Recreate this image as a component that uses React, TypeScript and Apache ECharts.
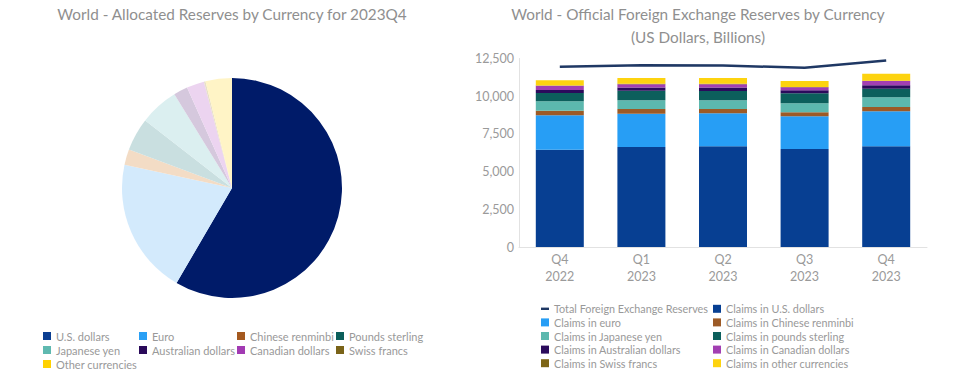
import React, { useEffect, useRef } from "react";
import * as echarts from "echarts";

// ---- Pie (2023Q4 allocated reserves shares, %) ----
const pieNames = [
  "U.S. dollars",
  "Euro",
  "Chinese renminbi",
  "Pounds sterling",
  "Japanese yen",
  "Australian dollars",
  "Canadian dollars",
  "Swiss francs",
  "Other currencies",
];
const pieShares = [58.41, 19.98, 2.29, 4.84, 5.7, 2.08, 2.59, 0.23, 3.88];
const pieSliceColors = [
  "#001b69",
  "#d3eafc",
  "#f3dcc5",
  "#c9dfe0",
  "#dbeff0",
  "#d5c8dd",
  "#ecd4f0",
  "#e8e0c8",
  "#fff4c6",
];
const pieLegendColors = [
  "#0b3e91",
  "#2aa0f5",
  "#a4591f",
  "#0b5e5a",
  "#5fb9b0",
  "#2a0a5a",
  "#a23ab3",
  "#7a6318",
  "#ffd100",
];

// ---- Bars (US Dollars, Billions) ----
const quarters = ["Q4", "Q1", "Q2", "Q3", "Q4"];
const years = ["2022", "2023", "2023", "2023", "2023"];
const yTicks = [0, 2500, 5000, 7500, 10000, 12500];
const totalReserves = [11956, 12050, 12040, 11880, 12360];
const usd = [6452, 6631, 6678, 6499, 6678];
const eur = [2281, 2200, 2188, 2168, 2321];
const cny = [305, 312, 285, 265, 285];
const jpy = [624, 590, 577, 597, 643];
const gbp = [550, 623, 617, 663, 570];
const aud = [205, 220, 230, 199, 225];
const cad = [270, 220, 220, 199, 285];
const chf = [25, 25, 25, 25, 25];
const other = [342, 386, 387, 393, 460];

const barNames = [
  "Claims in U.S. dollars",
  "Claims in euro",
  "Claims in Chinese renminbi",
  "Claims in Japanese yen",
  "Claims in pounds sterling",
  "Claims in Australian dollars",
  "Claims in Canadian dollars",
  "Claims in Swiss francs",
  "Claims in other currencies",
];
const barValues = [usd, eur, cny, jpy, gbp, aud, cad, chf, other];
const barColors = [
  "#073f92",
  "#279ef5",
  "#9c5a26",
  "#5cb8ae",
  "#0c5f5c",
  "#2b0b5c",
  "#a23fb2",
  "#7d6516",
  "#fdd30f",
];
const totalName = "Total Foreign Exchange Reserves";

const FONT = "Lato, 'Open Sans', sans-serif";
const LEG_TEXT = { color: "#999999", fontSize: 10.8, fontFamily: FONT };

export default function App() {
  const ref = useRef<HTMLDivElement>(null);
  useEffect(() => {
    if (!ref.current) return;
    const chart = echarts.init(ref.current, undefined, { renderer: "svg" });

    const pieLegendItem = (i: number) => ({
      name: pieNames[i],
      itemStyle: { color: pieLegendColors[i] },
    });
    const pieCols = [
      [0, 4, 8],
      [1, 5],
      [2, 6],
      [3, 7],
    ];
    const pieColX = [43, 139, 237, 336];
    const pieLegends = pieCols.map((col, k) => ({
      orient: "vertical",
      left: pieColX[k],
      top: 329,
      padding: 0,
      itemWidth: 8,
      itemHeight: 8,
      itemGap: 0,
      icon: "rect",
      selectedMode: false,
      textStyle: { ...LEG_TEXT, fontSize: 11, lineHeight: 14 },
      data: col.map(pieLegendItem),
    }));

    const barLegendCol1 = [totalName, barNames[1], barNames[3], barNames[5], barNames[7]];
    const barLegendCol2 = [barNames[0], barNames[2], barNames[4], barNames[6], barNames[8]];
    const mkBarLegendItem = (n: string) =>
      n === totalName ? { name: n, icon: "path://M0,0H10V3H0Z" } : { name: n, icon: "rect" };
    const barLegends = [barLegendCol1, barLegendCol2].map((col, k) => ({
      orient: "vertical",
      left: k === 0 ? 541 : 713,
      top: 302,
      padding: 0,
      itemWidth: 8,
      itemHeight: 8,
      itemGap: 0,
      selectedMode: false,
      textStyle: { ...LEG_TEXT, lineHeight: 13.6 },
      data: col.map(mkBarLegendItem),
    }));

    const titleStyle = {
      color: "#8f8f8f",
      fontSize: 15.3,
      fontWeight: "normal",
      fontFamily: FONT,
      lineHeight: 23,
    };

    const option: any = {
      animation: false,
      backgroundColor: "#ffffff",
      title: [
        {
          text: "World - Allocated Reserves by Currency for 2023Q4",
          left: 232,
          top: 2.5,
          padding: 0,
          textAlign: "center",
          textStyle: titleStyle,
        },
        {
          text: "World - Official Foreign Exchange Reserves by Currency\n(US Dollars, Billions)",
          left: 698,
          top: 2.5,
          padding: 0,
          textAlign: "center",
          textStyle: titleStyle,
        },
      ],
      legend: [...pieLegends, ...barLegends],
      grid: { left: 519, right: 50, top: 58.5, bottom: 136, containLabel: false },
      xAxis: {
        type: "category",
        data: quarters.map((q, i) => q + "\n" + years[i]),
        axisLine: { show: true, lineStyle: { color: "#e2e2e2", width: 1 } },
        axisTick: { show: false },
        axisLabel: {
          color: "#9a9a9a",
          fontSize: 12.5,
          fontFamily: FONT,
          lineHeight: 17,
          margin: 4,
        },
      },
      yAxis: {
        type: "value",
        min: yTicks[0],
        max: yTicks[yTicks.length - 1],
        interval: 2500,
        axisLine: { show: true, lineStyle: { color: "#e2e2e2", width: 1 } },
        axisTick: { show: false },
        splitLine: { show: false },
        axisLabel: {
          color: "#9a9a9a",
          fontSize: 12.5,
          fontFamily: FONT,
          margin: 5,
          formatter: (v: number) => v.toLocaleString("en-US"),
        },
      },
      series: [
        {
          type: "pie",
          name: "Allocated",
          center: [232, 188],
          radius: [0, 110],
          startAngle: 90,
          clockwise: true,
          label: { show: false },
          labelLine: { show: false },
          emphasis: { disabled: true },
          itemStyle: { borderWidth: 0 },
          data: pieNames.map((n, i) => ({
            name: n,
            value: pieShares[i],
            itemStyle: { color: pieSliceColors[i] },
          })),
        },
        ...barNames.map((n, i) => ({
          type: "bar",
          name: n,
          stack: "claims",
          barWidth: 48,
          itemStyle: { color: barColors[i] },
          emphasis: { disabled: true },
          data: barValues[i],
        })),
        {
          type: "line",
          name: totalName,
          data: totalReserves,
          symbol: "none",
          lineStyle: { color: "#1f3864", width: 2.5 },
          itemStyle: { color: "#1f3864" },
          emphasis: { disabled: true },
          z: 5,
        },
      ],
    };
    chart.setOption(option);
    return () => chart.dispose();
  }, []);
  return (
    <div
      ref={ref}
      style={{ position: "absolute", left: 0, top: 0, width: 977, height: 383 }}
    />
  );
}
